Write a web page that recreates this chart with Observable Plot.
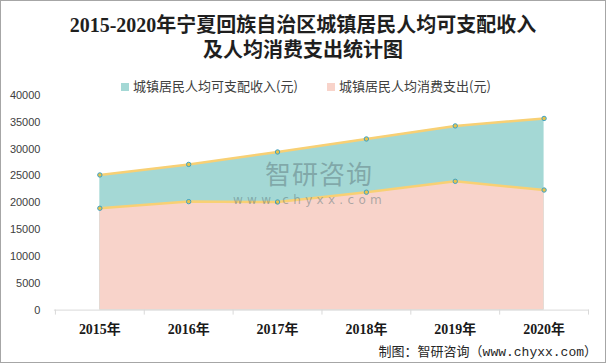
<!DOCTYPE html>
<html>
<head>
<meta charset="utf-8">
<script src="https://cdn.jsdelivr.net/npm/d3@7"></script>
<script src="https://cdn.jsdelivr.net/npm/@observablehq/plot@0.6"></script>
<style>
  html, body { margin: 0; padding: 0; background: #fff; }
  #frame { position: relative; width: 604px; height: 361px; border: 1px solid #a6a6a6; overflow: hidden; background: #fff; }
  #title { position: absolute; left: 0; top: 12px; width: 604px; text-align: center; font-family: "Liberation Serif", "Noto Sans CJK SC", serif; font-weight: bold; font-size: 20px; line-height: 25px; color: #1f1f1f; }
  #legend { position: absolute; left: 0; top: 76px; width: 604px; height: 18px; font-family: "Noto Sans CJK SC", sans-serif; font-size: 13px; line-height: 18px; color: #404040; }
  .li { position: absolute; top: 0; white-space: nowrap; }
  .sw { display: inline-block; width: 8px; height: 8px; margin-right: 4px; vertical-align: 0px; }
  #chart { position: absolute; left: -1px; top: 79px; }
  #wm { position: absolute; left: 264px; top: 159px; font-family: "Noto Sans CJK SC", sans-serif; font-size: 26px; line-height: 26px; color: rgba(95,120,125,0.5); letter-spacing: 1px; }
  #wm2 { position: absolute; left: 232px; top: 193px; font-family: "DejaVu Sans", sans-serif; font-size: 12px; line-height: 12px; color: rgba(95,120,125,0.5); letter-spacing: 4.3px; }
  #foot { position: absolute; right: 8px; top: 343px; font-family: "Liberation Mono", "Noto Sans CJK SC", monospace; font-size: 13px; line-height: 18px; color: #262626; white-space: nowrap; }
</style>
</head>
<body>
<div id="frame">
  <div id="title">2015-2020年宁夏回族自治区城镇居民人均可支配收入<br>及人均消费支出统计图</div>
  <div id="legend"></div>
  <div id="chart"></div>
  <div id="wm">智研咨询</div>
  <div id="wm2">www.chyxx.com</div>
  <div id="foot">制图：智研咨询（www.chyxx.com）</div>
</div>
<script>
const years = ["2015年", "2016年", "2017年", "2018年", "2019年", "2020年"];
const income = [25186, 27153, 29472, 31895, 34328, 35720];
const consumption = [18984, 20219, 20150, 21977, 24003, 22379];
const seriesNames = ["城镇居民人均可支配收入(元)", "城镇居民人均消费支出(元)"];
const yTicks = [0, 5000, 10000, 15000, 20000, 25000, 30000, 35000, 40000];

const colors = ["#a4d8d5", "#f8d3ca"];
const lineColor = "#f8d074";

const incomeRows = years.map((y, i) => ({year: y, value: income[i]}));
const consRows = years.map((y, i) => ({year: y, value: consumption[i]}));

// legend
const legend = document.getElementById("legend");
const legendX = [120, 326];
seriesNames.forEach((name, i) => {
  const el = document.createElement("div");
  el.className = "li";
  el.style.left = legendX[i] + "px";
  el.innerHTML = `<span class="sw" style="background:${colors[i]}"></span>${name}`;
  legend.appendChild(el);
});

const chart = Plot.plot({
  width: 606,
  height: 271,
  marginTop: 15,
  marginBottom: 41,
  marginLeft: 54,
  marginRight: 16,
  style: {background: "transparent", overflow: "visible"},
  x: {type: "band", domain: years, padding: 0, label: null},
  y: {domain: [0, 40000], label: null},
  marks: [
    Plot.areaY(incomeRows, {x: "year", y: "value", fill: colors[0]}),
    Plot.areaY(consRows, {x: "year", y: "value", fill: colors[1]}),
    Plot.lineY(incomeRows, {x: "year", y: "value", stroke: lineColor, strokeWidth: 2.5}),
    Plot.lineY(consRows, {x: "year", y: "value", stroke: lineColor, strokeWidth: 2.5}),
    Plot.dot(incomeRows, {x: "year", y: "value", r: 2.2, fill: "#e9c24a", stroke: "#3aa2c9", strokeWidth: 1}),
    Plot.dot(consRows, {x: "year", y: "value", r: 2.2, fill: "#e9c24a", stroke: "#3aa2c9", strokeWidth: 1}),
    Plot.ruleY([0], {stroke: "#d9d9d9", strokeWidth: 1}),
    Plot.axisY({ticks: yTicks, tickSize: 0, tickPadding: 14, tickFormat: d => String(d), fontSize: 11, fill: "#404040", fontFamily: "Liberation Sans, sans-serif", label: null}),
    Plot.axisX({tickSize: 0, tickPadding: 14, fontSize: 14, fontWeight: "bold", fill: "#1a1a1a", fontFamily: "Liberation Serif, Noto Sans CJK SC, serif", label: null})
  ]
});
document.getElementById("chart").appendChild(chart);

// category boundary ticks on the x axis, from the plot's own x scale
const xs = chart.scale("x");
const ys = chart.scale("y");
const bw = xs.bandwidth;
const y0 = ys.apply(0);
const bounds = years.map(d => xs.apply(d)).concat([xs.apply(years[years.length - 1]) + bw]);
d3.select(chart).append("g")
  .selectAll("line").data(bounds).join("line")
  .attr("x1", d => d + 0.5).attr("x2", d => d + 0.5)
  .attr("y1", y0).attr("y2", y0 + 5)
  .attr("stroke", "#d9d9d9");
</script>
</body>
</html>
